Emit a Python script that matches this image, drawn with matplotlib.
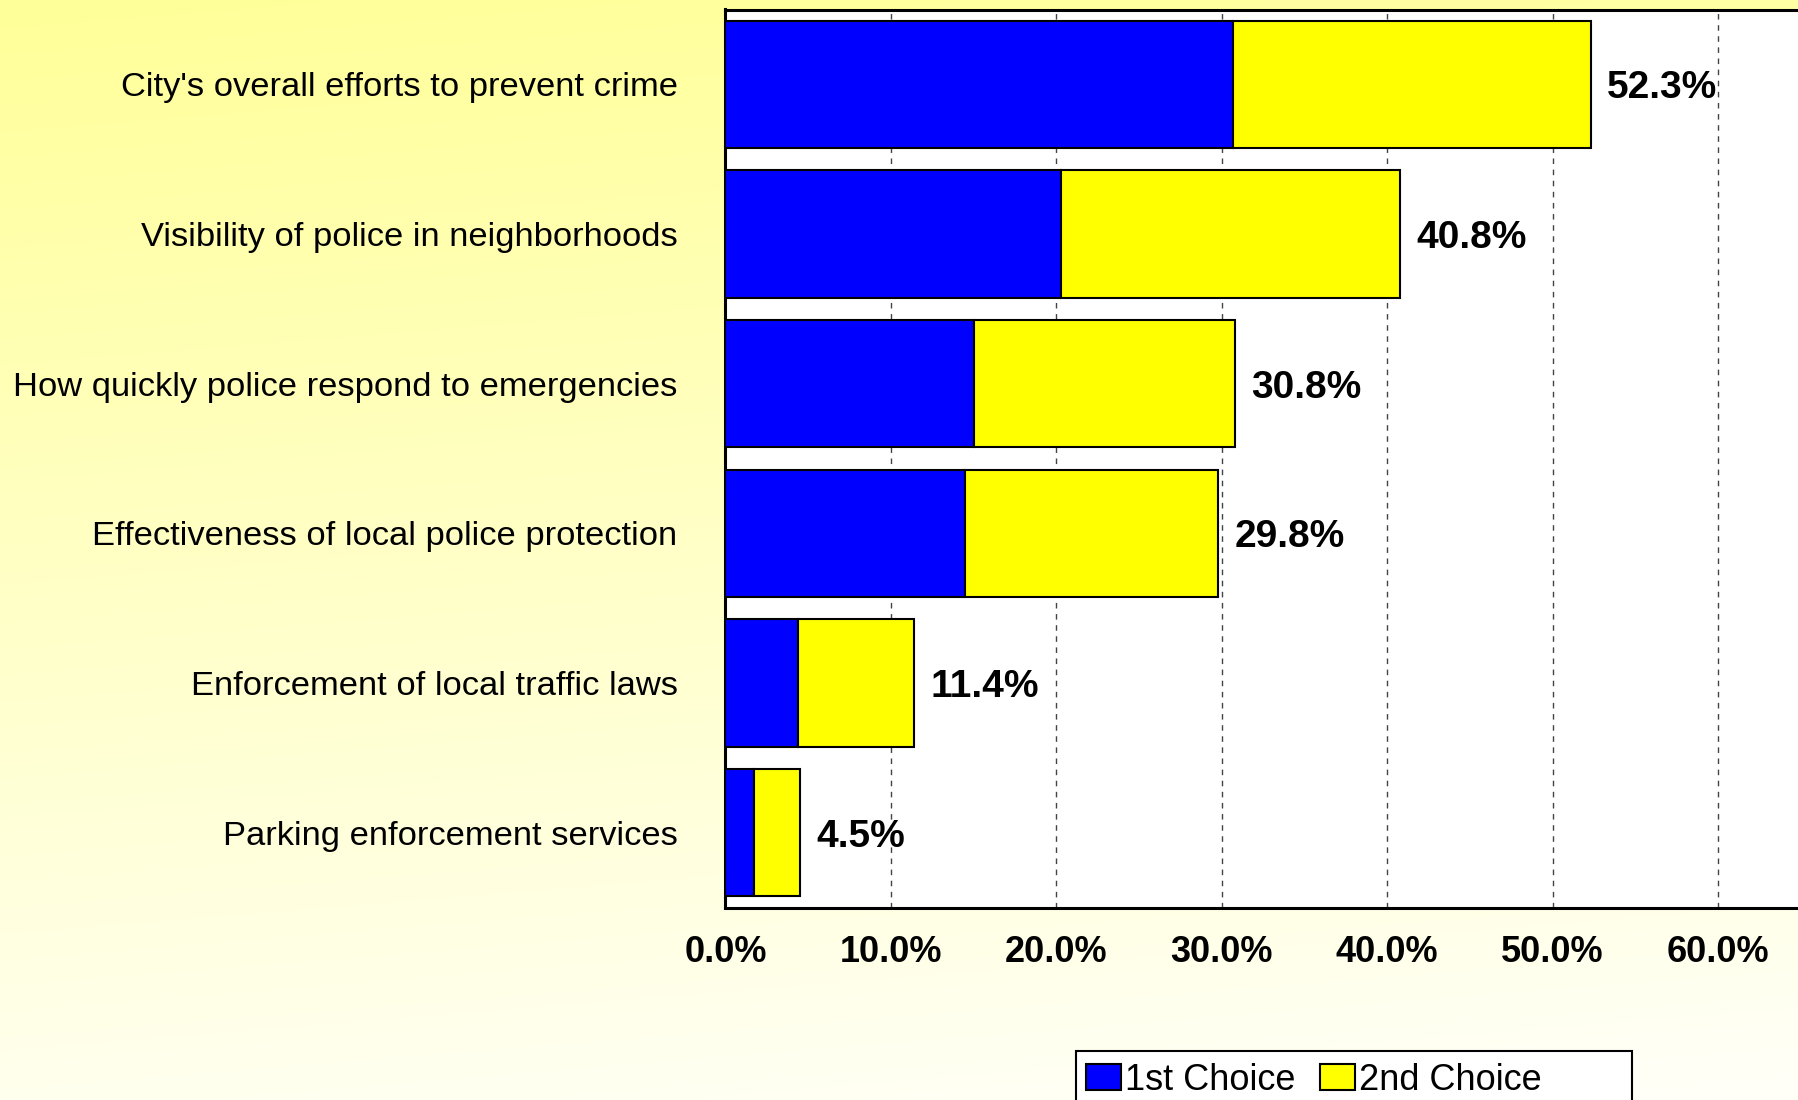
import numpy as np
import matplotlib
matplotlib.use("Agg")
import matplotlib.pyplot as plt
from matplotlib.patches import Patch, Rectangle
from matplotlib.ticker import PercentFormatter

plt.rcParams['font.family'] = ['Liberation Sans', 'DejaVu Sans']

categories = [
    "City's overall efforts to prevent crime",
    "Visibility of police in neighborhoods",
    "How quickly police respond to emergencies",
    "Effectiveness of local police protection",
    "Enforcement of local traffic laws",
    "Parking enforcement services",
]
first_choice = [30.7, 20.3, 15.0, 14.5, 4.4, 1.7]
second_choice = [21.6, 20.5, 15.8, 15.3, 7.0, 2.8]
xticks = [0, 10, 20, 30, 40, 50, 60]

W, H = 1799, 1100
fig = plt.figure(figsize=(W / 100, H / 100), dpi=100)

# pale yellow backdrop fading towards the bottom
bg = fig.add_axes([0, 0, 1, 1], zorder=-10)
yy, xx = np.mgrid[0:1:200j, 0:1:300j]
t = np.clip(0.9 * yy + 0.12 * xx, 0, 1)
top = np.array([255, 255, 153]) / 255
bot = np.array([255, 255, 247]) / 255
img = top[None, None, :] * (1 - t[..., None]) + bot[None, None, :] * t[..., None]
bg.imshow(img, aspect='auto', extent=[0, 1, 0, 1], interpolation='bilinear')
bg.axis('off')

ax = fig.add_axes([725.5 / W, 1 - 907.5 / H, 1 - 725.5 / W, (907.5 - 9.5) / H])
ax.set_facecolor('white')

y = np.arange(len(categories))
first = np.array(first_choice)
second = np.array(second_choice)
total = first + second

ax.barh(y, first, height=0.85, color='#0000FF', edgecolor='black', linewidth=1.5, zorder=3)
ax.barh(y, second, left=first, height=0.85, color='#FFFF00', edgecolor='black', linewidth=1.5, zorder=3)

for i in range(len(categories)):
    ax.annotate(f"{total[i]:.1f}%", xy=(total[i], y[i]), xytext=(11.5, 0),
                textcoords='offset points', va='center_baseline', ha='left',
                fontsize=28, fontweight='bold', zorder=4)

ax.set_xlim(0, 64.9)
ax.set_ylim(len(categories) - 0.5, -0.5)
ax.set_yticks(y)
ax.set_yticklabels(categories, fontsize=24.8, va='center_baseline')
ax.set_xticks(xticks)
ax.xaxis.set_major_formatter(PercentFormatter(decimals=1))
for lab in ax.get_xticklabels():
    lab.set_fontweight('bold')
ax.tick_params(axis='x', length=0, pad=20, labelsize=26)
ax.tick_params(axis='y', length=0, pad=34.5)

ax.set_axisbelow(True)
ax.xaxis.grid(True, linestyle=(0, (4, 4)), color='#444444', linewidth=1.0)
ax.yaxis.grid(False)

for side in ['top', 'left', 'bottom']:
    ax.spines[side].set_linewidth(2.2)
    ax.spines[side].set_color('black')
ax.spines['right'].set_visible(False)

# legend frame runs off the bottom edge
fig.patches.append(Rectangle((1075.6 / W, -0.05), 556 / W, 0.05 + 1 - 1051 / H,
                             transform=fig.transFigure, facecolor='white',
                             edgecolor='black', linewidth=1.5, zorder=5))
handles = [Patch(facecolor='#0000FF', edgecolor='black', linewidth=1.5, label='1st Choice'),
           Patch(facecolor='#FFFF00', edgecolor='black', linewidth=1.5, label='2nd Choice')]
leg = fig.legend(handles=handles, loc='center left', bbox_to_anchor=(1086 / W, 1 - 1080 / H),
                 ncol=2, fontsize=26, frameon=False, handlelength=0.97, handleheight=0.72,
                 handletextpad=0.1, columnspacing=0.7, borderpad=0, borderaxespad=0)
leg.set_zorder(6)

fig.savefig("out.png", dpi=100)
